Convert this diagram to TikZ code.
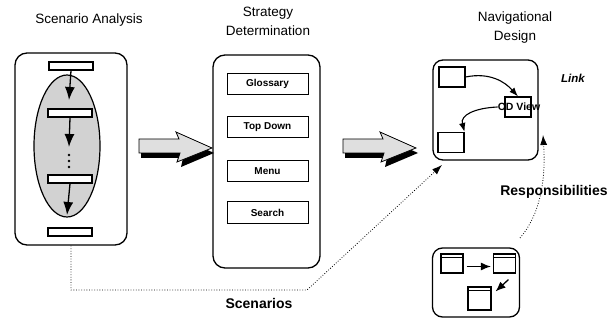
\documentclass[tikz,border=0pt]{standalone}
\usepackage{fontspec}
\setmainfont{Liberation Sans}
\usetikzlibrary{arrows.meta,shapes.geometric,calc}
\begin{document}
\begin{tikzpicture}[x=1pt,y=-1pt,
  panel/.style={draw,line width=1.3pt,rounded corners=12pt,inner sep=0pt},
  bar/.style={draw,line width=1.3pt,fill=white,minimum width=44pt,minimum height=8pt,inner sep=0pt},
  stratbox/.style={draw,line width=1pt,minimum width=81pt,minimum height=21pt,inner sep=0pt,
    font=\fontsize{10}{12}\selectfont\bfseries},
  sq/.style={draw,line width=1.1pt,fill=white,minimum width=26pt,minimum height=20pt,inner sep=0pt},
  win/.style={draw,line width=1.1pt,fill=white,minimum width=22pt,minimum height=19pt,inner sep=0pt},
  title/.style={font=\fontsize{13.5}{19}\selectfont,align=center},
  lbl/.style={font=\fontsize{14}{16}\selectfont\bfseries},
  flow/.style={-{Latex[length=13pt,width=10pt]},line width=1.3pt},
  thin/.style={-{Latex[length=9pt,width=6.5pt]},line width=1.1pt},
  bold tip/.style={-{Latex[length=10pt,width=8pt]},line width=1.3pt},
  dots/.style={line width=0.8pt,dash pattern=on 0.8pt off 1.8pt},
  blockarrow/.pic={
    \fill[black] (2,-2) -- (42,-2) -- (40,-9) -- (75,7) -- (42,21) -- (44,12) -- (2,12) -- cycle;
    \draw[line width=0.8pt,fill=gray!25] (0,-7) -- (40,-7) -- (37,-14) -- (73,2) -- (38,16) -- (41,7) -- (0,7) -- cycle;
  }
]
\useasboundingbox (0,0) rectangle (612,320);

% column titles
\node[title] (t1) at (89,20) {Scenario Analysis};
\node[title] (t2) at (268,21) {Strategy\\Determination};
\node[title] (t3) at (515,28) {Navigational\\Design};

% scenario analysis panel
\node[panel,minimum width=112pt,minimum height=192pt] (sa) at (71,149) {};
\node[ellipse,draw,line width=1.2pt,fill=gray!35,minimum width=66pt,minimum height=142pt,inner sep=0pt] (ell) at (67,146) {};
\node[bar] (b0) at (71,66) {};
\node[bar] (b1) at (70,113) {};
\node[bar] (b2) at (70,179) {};
\node[bar] (b3) at (70,232) {};
\coordinate (e1) at (69,100);
\coordinate (e2) at (69,147);
\coordinate (e3) at (67,215);
\draw[flow] (b0.south) -- (e1);
\draw[flow] (b1.south) -- (e2);
\draw[flow] (b2.south) -- (e3);
\foreach \yy in {155,161,167} \fill (69,\yy) circle (1.3pt);

% strategy determination panel
\node[panel,minimum width=107pt,minimum height=213pt] (sd) at (266.5,161.5) {};
\node[stratbox] (g) at (267.5,84) {Glossary};
\node[stratbox] (td) at (267.5,127.5) {Top Down};
\node[stratbox] (mn) at (267.5,171) {Menu};
\node[stratbox] (se) at (267.5,212.5) {Search};

% block arrows between the stages
\pic at (139,146) {blockarrow};
\pic at (343,146) {blockarrow};

% navigational design panel
\node[panel,rounded corners=10pt,minimum width=105pt,minimum height=100pt] (nd) at (485.5,110) {};
\node[sq] (na) at (452,77) {};
\node[sq] (nb) at (451,142.5) {};
\node[sq] (nc) at (518,107) {};
\node[font=\fontsize{10.5}{12}\selectfont\bfseries,inner sep=0pt] (od) at (519,107) {OD View};
\draw[thin] (na.east) .. controls (490,72) and (505,82) .. (nc.north);
\draw[thin] (od.west) .. controls (475,108) and (460,115) .. (nb.north east);
\node[font=\fontsize{11.5}{13}\selectfont\bfseries\itshape] (lk) at (573,78) {Link};

% responsibilities panel
\node[panel,rounded corners=10pt,minimum width=87pt,minimum height=69pt] (rb) at (476,282.5) {};
\node[win] (w1) at (452,263.5) {};
\node[win] (w2) at (504.5,263.5) {};
\node[win,minimum width=23pt,minimum height=23pt] (w3) at (479.5,298.5) {};
\foreach \w in {w1,w2,w3}
  \draw[line width=1.1pt] ($(\w.north west)+(0,4)$) -- ($(\w.north east)+(0,4)$);
\draw[bold tip] ($(w1.east)+(3,3)$) -- ($(w2.west)+(-2,3)$);
\draw[bold tip] ($(w2.south)+(4,6)$) -- ($(w3.north east)+(4,5)$);
\node[lbl] (resp) at (554,192) {Responsibilities};
\coordinate (rs) at (520,238);
\coordinate (re) at (543,135);
\draw[dots,-{Latex[length=10pt,width=7pt]}] (rs) .. controls (540,215) and (546,180) .. (re);

% scenarios path
\coordinate (sc1) at (71,290);
\coordinate (sc2) at (307,290);
\coordinate (sc3) at (442,165);
\draw[dots,-{Latex[length=10pt,width=7pt]}] (sa.south) -- (sc1) -- (sc2) -- (sc3);
\node[lbl] (scn) at (259,303) {Scenarios};
\end{tikzpicture}
\end{document}
